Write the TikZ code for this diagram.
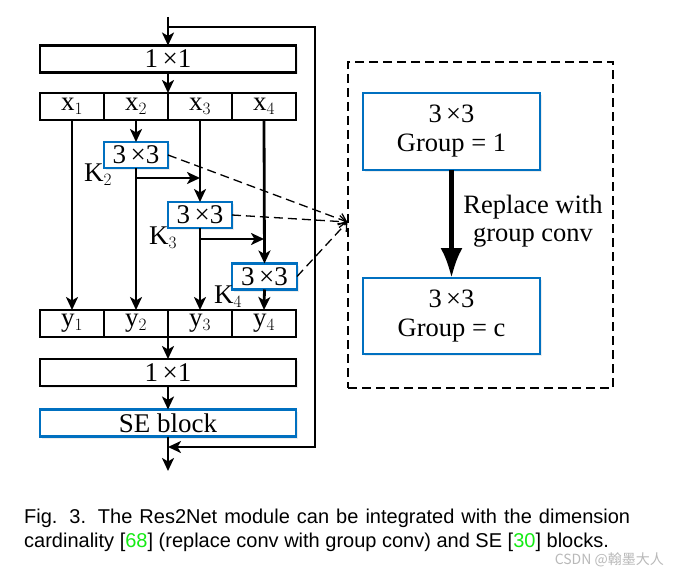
\documentclass[tikz,border=0pt]{standalone}
\usepackage{fontspec}
\setmainfont{Liberation Serif}
\newfontfamily\capfont{Liberation Sans}
\newfontfamily\cjk{Noto Sans CJK SC}
\usetikzlibrary{arrows.meta,shadows}
\definecolor{boxblue}{RGB}{0,112,192}
\definecolor{citegreen}{RGB}{20,235,20}
\definecolor{wmgray}{RGB}{185,185,185}
\tikzset{
  blk/.style={draw=black, line width=2.2pt, fill=white, inner sep=0pt, outer sep=0pt,
    font=\fontsize{27}{30}\selectfont, drop shadow={shadow xshift=2pt, shadow yshift=-2pt, opacity=0.15}},
  wide/.style={blk, minimum width=256pt, minimum height=27pt},
  cell/.style={draw=black, line width=2.2pt, fill=white, inner sep=0pt, outer sep=0pt,
    font=\fontsize{27}{30}\selectfont, minimum width=64pt, minimum height=27pt},
  conv/.style={blk, draw=boxblue, minimum width=64pt, minimum height=26pt},
  bigconv/.style={blk, draw=boxblue, minimum width=177pt, minimum height=77pt, align=center, font=\fontsize{26.5}{29}\selectfont},
  klab/.style={font=\fontsize{27}{30}\selectfont, inner sep=0pt},
  arr/.style={line width=2.8pt, -{Stealth[length=13pt,width=12pt,inset=3.5pt]}},
  dsh/.style={line width=1.3pt, dash pattern=on 9pt off 5pt},
  dsharr/.style={dsh, -{Straight Barb[length=7pt,width=12pt]}},
  bigarr/.style={line width=4.5pt, -{Latex[length=30pt,width=22pt]}},
  capt/.style={font=\capfont\fontsize{20}{24}\selectfont, inner sep=0pt, anchor=base west}
}
\begin{document}
\begin{tikzpicture}[x=1pt,y=-1pt]
\useasboundingbox (0,0) rectangle (678,567);
\fill[white] (0,0) rectangle (678,567);

% left column
\node[wide] (top) at (168,59) {1\,×1};
\node[cell] (x1) at (72,106.5) {x$_{1}$};
\node[cell] (x2) at (136,106.5) {x$_{2}$};
\node[cell] (x3) at (200,106.5) {x$_{3}$};
\node[cell] (x4) at (264,106.5) {x$_{4}$};
\node[conv] (k2) at (136,155) {3\,×3};
\node[conv] (k3) at (200,215) {3\,×3};
\node[conv, minimum width=65pt] (k4) at (264.5,276.5) {3\,×3};
\node[klab] (l2) at (98,175) {K$_{2}$};
\node[klab] (l3) at (163,238) {K$_{3}$};
\node[klab] (l4) at (228,297) {K$_{4}$};
\node[cell] (y1) at (72,323.5) {y$_{1}$};
\node[cell] (y2) at (136,323.5) {y$_{2}$};
\node[cell] (y3) at (200,323.5) {y$_{3}$};
\node[cell] (y4) at (264,323.5) {y$_{4}$};
\node[wide] (bot) at (168,372.5) {1\,×1};
\node[wide, draw=boxblue] (se) at (168,423) {SE block};

\coordinate (in) at (168,17);
\coordinate (fb) at (168,27);
\coordinate (fc) at (315,27);
\coordinate (fd) at (315,447);
\coordinate (fj) at (168,447);
\coordinate (out) at (168,471);
\coordinate (b2) at (136,178);
\coordinate (b3) at (200,239);

\draw[arr] (in) -- (top.north);
\draw[arr] (fb) -- (fc) -- (fd) -- (fj);
\draw[arr] (se.south) -- (out);
\draw[arr] (top.south) -- (x2.north east);
\draw[arr] (x1.south) -- (y1.north);
\draw[arr] (x2.south) -- (k2.north);
\draw[arr] (k2.south) -- (y2.north);
\draw[arr] (b2) -- (b2 -| x3.south);
\draw[arr] (x3.south) -- (k3.north);
\draw[arr] (k3.south) -- (y3.north);
\draw[arr] (b3) -- (b3 -| x4.south);
\draw[arr] (x4.south) -- (k4.north);
\draw[arr] (k4.south) -- (y4.north);
\draw[arr] (y2.south east) -- (bot.north);
\draw[arr] (bot.south) -- (se.north);

% right panel
\node[draw, dsh, minimum width=265pt, minimum height=326pt, inner sep=0pt] (panel) at (480.5,225) {};
\node[bigconv] (g1) at (451.5,131.5) {3\,×3\\Group = 1};
\node[bigconv, minimum height=76pt] (g2) at (451.5,316) {3\,×3\\Group = c};
\draw[bigarr] (g1.south) -- (g2.north);
\node[align=center, font=\fontsize{26.5}{28}\selectfont, inner sep=0pt] (rep) at (533,221) {Replace with\\group conv};

\coordinate (tip) at (panel.west |- 0,222);
\draw[dsharr] (k2.east) -- (tip);
\draw[dsharr] (k3.east) -- (tip);
\draw[dsharr] (k4.east) -- (tip);

% caption
\node[capt] (c1) at (24,523) {\makebox[606pt][s]{Fig. 3. The Res2Net module can be integrated with the dimension}};
\node[capt] (c2) at (24,547) {cardinality [{\color{citegreen}68}] (replace conv with group conv) and SE [{\color{citegreen}30}] blocks.};
\node[font=\cjk\fontsize{14}{16}\selectfont, text=wmgray, anchor=base east, inner sep=0pt] (wm) at (664,564) {CSDN @翰墨大人};
\end{tikzpicture}
\end{document}
